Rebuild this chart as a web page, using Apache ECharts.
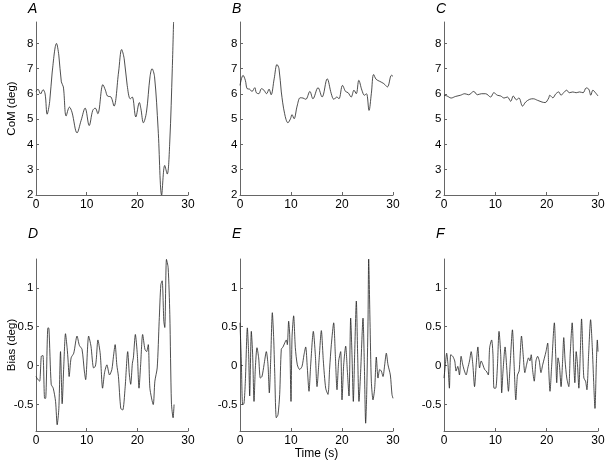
<!DOCTYPE html>
<html><head><meta charset="utf-8">
<script src="https://cdn.jsdelivr.net/npm/echarts@6/dist/echarts.min.js"></script>
<style>html,body{margin:0;padding:0;background:#fff}#c{width:605px;height:461px}</style>
</head><body><div id="c"></div>
<script>
// ---- data (time in s, values in deg) ----
const tA = [0,0.4,0.9,1.4,1.8,2.2,2.7,3.2,4.05,4.5,5.0,5.4,5.95,6.6,7.1,8.1,8.9,9.7,10.5,11.2,11.7,12.2,13.2,13.7,14.1,14.8,15.4,16.3,16.9,17.4,18.0,18.6,19.0,19.7,20.4,20.7,21.2,21.8,22.5,22.9,23.4,24.1,24.8,25.4,25.9,26.4,26.9,27.15];
const comA = [6.1,6.19,6.0,6.17,6.0,5.2,5.7,6.87,8.0,7.54,6.48,6.28,5.13,5.48,5.28,4.46,4.95,5.44,4.75,5.35,5.44,5.22,6.37,6.15,5.92,5.88,5.52,6.87,7.76,7.4,6.34,5.81,5.88,5.09,5.66,5.42,4.86,5.28,6.68,7.0,6.68,4.62,2.0,3.17,2.83,4.1,7.0,8.85];

const tB = [0,0.6,1.05,1.4,1.9,2.35,2.9,3.2,3.7,4.2,4.7,5.2,5.7,6.1,6.7,7.25,7.65,8.1,8.75,9.4,9.9,10.2,10.6,11.2,11.8,12.35,12.9,13.7,14.3,15.3,16.1,17.1,17.9,18.4,19.0,19.4,20.1,20.7,21.2,21.8,22.35,22.8,23.3,23.9,24.4,24.8,25.3,25.75,26.2,26.7,27.4,28.2,28.9,29.7,30];
const comB = [6.34,6.74,6.54,6.21,6.19,6.1,6.25,6.05,6.01,6.21,6.15,6.01,6.19,5.97,6.6,7.17,7.0,6.08,5.22,4.86,5.02,5.18,5.02,5.52,5.85,5.84,5.79,6.1,5.81,6.25,5.88,6.6,6.01,5.79,5.88,5.81,6.34,6.1,6.05,5.88,6.15,6.01,6.54,6.15,5.95,6.01,5.35,6.01,6.77,6.58,6.5,6.41,6.28,6.74,6.7];

const tC = [0,0.6,1.4,2.2,3.2,4.05,4.8,5.8,6.5,7.3,8.1,9.1,9.7,10.4,11.05,11.7,12.35,13.0,13.5,14.1,14.6,15.3,15.9,16.7,17.4,18.2,19.1,19.7,20.4,20.6,21.2,21.8,22.35,22.8,23.3,23.9,24.4,25.1,25.75,26.4,27.1,27.7,28.2,28.6,29.0,29.5,30];
const comC = [5.95,5.92,5.84,5.9,5.95,6.01,5.97,6.1,5.97,6.01,6.01,5.88,6.05,5.95,5.92,5.84,5.88,5.71,5.92,5.77,5.84,5.52,5.68,5.79,5.81,5.75,5.68,5.66,5.84,5.95,5.85,6.01,6.08,5.95,6.05,6.15,6.05,6.08,6.05,6.08,6.05,6.24,6.19,5.95,6.15,6.05,5.92];

const tD = [0,0.39,0.72,1.05,1.37,1.7,1.9,2.35,2.55,3.0,3.4,3.86,4.18,4.51,4.84,4.97,5.16,5.49,5.82,6.14,6.34,6.54,6.93,7.45,8.1,8.56,9.08,9.54,9.8,10.39,10.85,11.37,11.7,11.9,12.22,12.68,13.14,13.53,13.99,14.51,14.97,15.29,15.62,15.95,16.27,16.73,17.12,17.58,18.1,18.43,18.69,19.02,19.22,19.61,20.0,20.33,20.65,21.05,21.5,21.83,22.16,22.48,23.14,23.46,23.92,24.31,24.64,24.9,25.23,25.42,25.75,26.08,26.41,26.73,27.06,27.25];
const biasD = [-0.14,-0.18,-0.2,0.12,0.13,-0.42,-0.42,0.485,0.48,-0.24,-0.29,-0.46,-0.76,-0.55,0.18,-0.07,-0.49,0.01,0.41,0.23,0.06,-0.14,0.1,0.16,0.38,0.26,0.21,-0.07,-0.18,0.38,0.25,-0.03,-0.01,0.08,0.33,0.15,-0.29,-0.09,0.01,-0.12,-0.05,0.12,0.27,0.01,-0.14,-0.55,-0.57,-0.29,0.18,-0.12,-0.24,0.03,0.1,0.4,0.14,-0.29,0.01,0.4,0.21,0.18,0.27,-0.29,-0.5,-0.2,-0.03,0.57,1.04,1.09,0.57,0.49,1.365,1.26,0.66,-0.48,-0.67,-0.5];

const tE = [0,0.26,0.52,0.78,1.05,1.44,1.7,1.9,2.22,2.48,2.75,3.01,3.33,3.66,3.99,4.31,4.71,5.16,5.49,5.75,6.01,6.34,6.6,6.8,7.12,7.45,7.78,8.1,8.43,8.76,9.08,9.28,9.54,9.74,10.0,10.2,10.52,10.85,11.24,11.7,12.16,12.55,12.88,13.2,13.53,13.86,14.38,14.77,15.1,15.49,15.95,16.34,16.8,17.25,17.58,17.91,18.37,18.69,19.02,19.35,19.74,20.0,20.33,20.72,21.05,21.37,21.7,21.96,22.22,22.48,22.81,23.07,23.33,23.66,24.12,24.38,24.64,24.84,25.1,25.23,25.49,25.75,26.08,26.41,26.73,27.06,27.39,27.71,28.04,28.37,28.69,29.02,29.48,29.8,30.0];
const biasE = [0.55,0.06,-0.5,-0.49,-0.2,0.485,0.14,-0.39,0.44,0.14,-0.46,-0.03,0.23,0.1,-0.16,-0.14,0.01,0.18,0.01,-0.35,0.06,0.68,0.36,-0.07,-0.67,-0.63,-0.37,0.21,0.24,0.29,0.33,0.27,0.57,0.4,-0.46,0.36,0.64,0.23,0.01,-0.05,-0.01,0.14,0.24,-0.03,-0.33,0.01,0.44,0.14,-0.27,0.06,0.45,0.06,-0.29,-0.37,-0.03,0.27,0.55,0.14,-0.31,0.06,0.18,-0.44,0.01,0.25,-0.07,-0.39,0.61,0.14,-0.46,0.14,0.83,0.14,-0.46,-0.07,0.61,0.01,-0.74,-0.37,0.57,1.37,0.57,-0.2,-0.44,-0.29,0.11,-0.16,-0.05,-0.07,-0.14,0.01,0.16,0.01,-0.12,-0.37,-0.42];

const tF = [0,0.26,0.52,0.78,1.05,1.31,1.7,2.09,2.35,2.68,3.01,3.33,3.66,3.99,4.31,4.64,4.97,5.29,5.62,5.95,6.27,6.6,6.93,7.25,7.58,7.91,8.24,8.63,8.89,9.28,9.54,9.74,10.07,10.39,10.72,11.05,11.24,11.5,11.9,12.22,12.55,12.88,13.33,13.66,13.99,14.31,14.64,15.1,15.42,15.75,16.08,16.47,16.73,16.99,17.25,17.58,17.91,18.24,18.56,18.89,19.22,19.87,20.2,20.39,20.65,20.98,21.5,21.76,21.96,22.22,22.48,22.81,23.07,23.33,23.59,23.92,24.31,24.58,24.97,25.29,25.49,25.75,26.01,26.27,26.54,26.8,27.06,27.25,27.58,27.84,28.17,28.56,28.89,29.15,29.41,29.67,29.87,30.0];
const biasF = [-0.16,0.01,0.16,0.01,-0.29,0.14,0.12,0.06,-0.07,-0.01,-0.12,0.12,0.01,-0.07,-0.12,-0.03,0.06,0.18,0.01,-0.27,0.01,0.24,-0.03,0.06,0.01,-0.05,-0.07,-0.12,0.23,0.33,0.14,-0.29,-0.29,-0.03,0.44,0.14,-0.35,-0.07,0.24,-0.03,-0.33,0.01,0.46,0.01,-0.44,-0.12,-0.07,0.38,0.14,-0.09,0.01,0.1,0.06,0.14,-0.05,-0.2,0.06,0.12,0.06,-0.09,0.01,0.18,0.29,-0.03,-0.33,0.01,0.55,0.14,-0.22,0.1,0.01,-0.27,0.01,0.36,0.06,-0.16,-0.27,0.14,0.55,0.01,-0.22,0.18,0.01,-0.29,0.14,0.6,0.14,-0.16,-0.2,-0.31,0.14,0.59,0.23,-0.2,-0.55,0.01,0.33,0.18];

const timeTicks = [0, 10, 20, 30];
const comTicks = [2, 3, 4, 5, 6, 7, 8];
const biasTicks = [-0.5, 0, 0.5, 1];
const biasTickLabels = ['-0.5', '0', '0.5', '1'];
const panelLetters = ['A', 'B', 'C', 'D', 'E', 'F'];

// ---- layout ----
const FONT = '"Liberation Sans", Arial, Helvetica, sans-serif';
const FS = 11.5;
const lefts = [36, 240, 444];
const widths = [152, 153, 154];
const rows = [{top: 22, height: 173}, {top: 259, height: 172}];
const series = [[tA, comA], [tB, comB], [tC, comC], [tD, biasD], [tE, biasE], [tF, biasF]];

const grids = [], xAxes = [], yAxes = [], ser = [], titles = [];
for (let i = 0; i < 6; i++) {
  const col = i % 3, row = Math.floor(i / 3);
  grids.push({left: lefts[col], top: rows[row].top, width: widths[col], height: rows[row].height,
    containLabel: false, outerBoundsMode: 'none'});
  xAxes.push({
    type: 'value', gridIndex: i, min: 0, max: 30, interval: 10,
    axisLine: {show: true, onZero: false, lineStyle: {color: '#666', width: 1}},
    axisTick: {show: true, inside: true, length: 3, lineStyle: {color: '#666'}, customValues: timeTicks},
    axisLabel: {color: '#000', fontSize: 12, fontFamily: FONT, margin: 4, customValues: timeTicks},
    splitLine: {show: false},
    name: i === 4 ? 'Time (s)' : '', nameLocation: 'middle', nameGap: 17, nameMoveOverlap: false,
    nameTextStyle: {color: '#000', fontSize: 12, fontFamily: FONT}
  });
  const isCom = row === 0;
  yAxes.push({
    type: 'value', gridIndex: i,
    min: isCom ? 2 : -0.84, max: isCom ? 8.85 : 1.37,
    axisLine: {show: true, onZero: false, lineStyle: {color: '#666', width: 1}},
    axisTick: {show: true, inside: true, length: 3, lineStyle: {color: '#666'}, customValues: isCom ? comTicks : biasTicks},
    axisLabel: {
      color: '#000', fontSize: FS, fontFamily: FONT, margin: 2.5,
      customValues: isCom ? comTicks : biasTicks,
      formatter: function (v) {
        if (isCom) return String(v);
        const k = biasTicks.indexOf(v);
        return k >= 0 ? biasTickLabels[k] : '';
      }
    },
    splitLine: {show: false},
    name: col === 0 ? (isCom ? 'CoM (deg)' : 'Bias (deg)') : '',
    nameLocation: 'middle', nameRotate: 90, nameGap: 18.5, nameMoveOverlap: false,
    nameTextStyle: {color: '#000', fontSize: FS, fontFamily: FONT}
  });
  const [ts, vs] = series[i];
  ser.push({
    type: 'line', xAxisIndex: i, yAxisIndex: i,
    data: ts.map((t, k) => [t, vs[k]]),
    showSymbol: false, smooth: isCom ? 0.35 : 0.25,
    lineStyle: {color: '#222', width: 0.8}, clip: true, animation: false
  });
  titles.push({
    text: panelLetters[i], left: lefts[col] - 8, top: row === 0 ? 2 : 227,
    textStyle: {fontSize: 14, fontStyle: 'italic', fontWeight: 'normal', color: '#000', fontFamily: FONT},
    padding: 0
  });
}

const chart = echarts.init(document.getElementById('c'), null, {renderer: 'canvas'});
chart.setOption({
  animation: false,
  backgroundColor: '#fff',
  title: titles,
  grid: grids, xAxis: xAxes, yAxis: yAxes, series: ser
});
</script></body></html>
